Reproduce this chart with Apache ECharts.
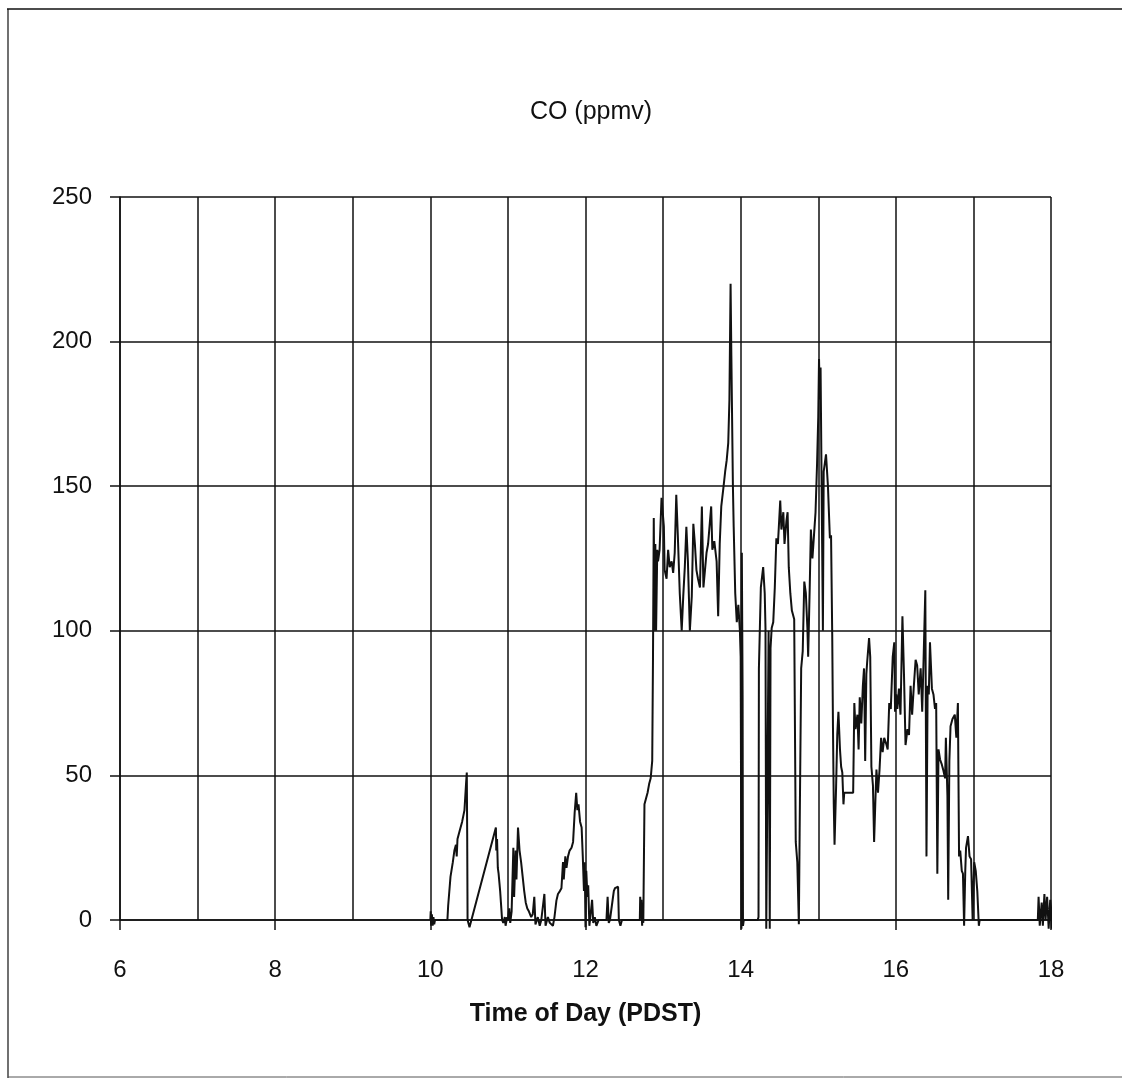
<!DOCTYPE html>
<html>
<head>
<meta charset="utf-8">
<script src="https://cdn.jsdelivr.net/npm/echarts@6/dist/echarts.min.js"></script>
<style>
html,body{margin:0;padding:0;background:#fff;}
#chart{width:1122px;height:1081px;}
</style>
</head>
<body>
<div id="chart"></div>
<script>
var chartTitle = "CO (ppmv)";
var xAxisTitle = "Time of Day (PDST)";
var xTicks = [6, 8, 10, 12, 14, 16, 18];
var yTicks = [0, 50, 100, 150, 200, 250];

var hours = [
10.00,10.005,10.01,10.02,10.03,10.04,10.05,10.06,10.22,
10.23,10.26,10.29,10.31,10.33,10.34,10.35,10.38,10.41,10.44,10.46,10.47,10.475,10.48,10.505,
10.845,10.85,10.86,10.87,10.88,10.89,10.90,10.91,10.925,10.94,10.96,10.97,10.99,11.00,
11.017,11.03,11.048,11.07,11.08,11.10,11.11,11.13,11.15,11.17,11.19,11.21,11.23,11.25,11.27,11.30,11.32,11.34,11.355,11.385,11.41,11.43,11.47,11.485,11.515,11.54,11.58,11.60,11.625,11.645,11.67,11.69,11.71,11.72,11.74,11.755,11.775,11.795,11.82,11.84,11.86,11.88,11.895,11.91,11.93,11.95,11.965,11.98,11.99,
12.00,12.01,12.025,12.035,12.05,12.07,12.085,12.10,12.12,12.14,12.17,12.27,12.285,12.30,12.315,12.35,12.365,12.38,12.42,12.43,12.45,12.47,12.70,12.705,12.71,12.72,12.725,12.73,12.735,12.745,
12.76,12.78,12.80,12.82,12.84,12.85,12.86,12.87,12.88,12.89,12.90,12.91,12.925,12.935,12.955,12.98,
13.00,13.01,13.02,13.045,13.065,13.085,13.11,13.13,13.15,13.17,13.19,13.215,13.24,13.26,13.28,13.30,13.32,13.345,13.37,13.39,13.41,13.43,13.45,13.475,13.50,13.52,13.54,13.56,13.58,13.62,13.635,13.66,13.69,13.71,13.73,13.75,13.78,13.80,13.82,13.84,13.855,13.87,13.88,13.90,13.91,13.93,13.95,13.97,13.99,
14.00,14.005,14.01,14.015,14.02,14.025,14.03,14.04,14.22,14.23,14.235,14.26,14.29,14.31,14.32,14.33,14.35,14.36,14.375,14.385,14.40,14.42,14.44,14.46,14.48,14.51,14.525,14.55,14.565,14.59,14.605,14.62,14.64,14.66,14.69,14.71,14.73,14.75,14.76,14.78,14.80,14.82,14.84,14.86,14.87,14.89,14.905,14.925,14.945,14.965,14.985,
15.00,15.01,15.02,15.03,15.04,15.05,15.06,15.07,15.085,15.10,15.125,15.15,15.165,15.18,15.19,15.20,15.21,15.23,15.245,15.26,15.28,15.295,15.31,15.325,15.335,15.45,15.465,15.48,15.505,15.52,15.535,15.555,15.575,15.59,15.605,15.62,15.63,15.655,15.67,15.685,15.705,15.72,15.735,15.75,15.77,15.79,15.81,15.83,15.85,15.875,15.895,15.915,15.935,15.96,15.98,15.99,
16.005,16.02,16.04,16.06,16.085,16.105,16.125,16.15,16.17,16.19,16.21,16.23,16.255,16.275,16.295,16.32,16.34,16.36,16.38,16.395,16.41,16.425,16.44,16.465,16.485,16.505,16.52,16.535,16.55,16.57,16.59,16.61,16.635,16.645,16.665,16.675,16.69,16.705,16.73,16.76,16.78,16.80,16.815,16.83,16.85,16.865,16.88,16.895,16.905,16.93,16.95,16.97,16.99,
17.01,17.03,17.05,17.07,17.08,17.83,17.84,17.855,17.88,17.895,17.915,17.93,17.95,17.97,17.99,18.01,18.025,18.04,18.06,18.08,18.095
];

var coValues = [
0,3,-2,2,-2,1,-1.5,0,0,
5,15,20,24,26,22,28,31,34,38,47,51,30,0,-2.5,
32,24,28,18,16,13,10,6,0,-1,1,-2,1,0,
4,-1,3,25,8,24,14,32,24,20,15,10,6,4,3,1,2,8,-1.5,1,-2,0,9,-2,1,-1,-2,1,6.7,9,10,11,20,14,22,18,22,24,25,27,37,44,38,40,34,32,22,10,20,
-2.5,17,8,12,-2,3,7,-1,1,-2,0,0,8,-1,0,7,10,11,11.5,0,-2,0,0,8,5,7,2,-2,6,-1,
40,42,44,47,49,52,55,91,139,100,130,100,128,124,128,146,
146,136,121,118,128,122,124,120,127,147,133,113,100,112,122,136,124,100,112,137,130,121,118,115,143,115,121,127,130,143,128,131,124,105,130,143,150,155,159,165,180,220,195,150,136,113,103,109,100,
91,47,-3,127,103,77,-2,0,0,1,87,115,122,113,101,-3,-3,100,-3,94,101,103,115,132,130,145,135,141,130,138,141,122,113,107,104,27,20,-1.5,30,87,93,117,113,101,91,115,135,125,133,141,158,
174,194,180,191,161,130,100,155,158,161,150,132,133,99,66,40,26,46,64,72,59,53,51,40,44,44,75,66,71,59,77,68,81,87,55,85,89,97.5,91,53,46.5,27,40,52,44,52,63,58,63,61,59,75,73,91,96,72,
78,73,80,71,105,85,60.5,66,64,81,71,80,90,88,78,87,72,92.5,114,22,81,78,96,80,78,73,75,16,59,55.5,54,52,49,63,43,7,55,67,69.5,71,63,75,22,24,17,16,-2,17,25,29,22,21,0,
20,17,10,-2,0,0,8,-2,6,-2,9,0,8,-3,7,-3,7,-2,10,11.5,10
];

var seriesData = hours.map(function (h, i) { return [h, coValues[i]]; });

var chart = echarts.init(document.getElementById('chart'), null, {renderer: 'canvas'});
var ink = '#111';
chart.setOption({
  backgroundColor: '#fff',
  animation: false,
  title: {
    text: chartTitle,
    left: 586, top: 95, textAlign: 'center',
    textStyle: {fontFamily: 'Liberation Sans', fontSize: 25, fontWeight: 'normal', color: ink}
  },
  grid: {left: 120, right: 71, top: 197, bottom: 161, containLabel: false},
  xAxis: {
    type: 'value', min: xTicks[0], max: xTicks[xTicks.length - 1], interval: 2,
    name: xAxisTitle, nameLocation: 'middle', nameGap: 82,
    nameTextStyle: {fontFamily: 'Liberation Sans', fontSize: 25, fontWeight: 'bold', color: ink},
    axisLine: {show: true, onZero: false, lineStyle: {color: ink, width: 1.5}},
    axisTick: {show: true, inside: false, length: 10, lineStyle: {color: ink, width: 1.5}},
    axisLabel: {margin: 38, fontFamily: 'Liberation Sans', fontSize: 24, color: ink},
    splitLine: {show: true, lineStyle: {color: ink, width: 1.5}},
    minorTick: {show: false, splitNumber: 2},
    minorSplitLine: {show: true, lineStyle: {color: ink, width: 1.5}}
  },
  yAxis: {
    type: 'value', min: yTicks[0], max: yTicks[yTicks.length - 1], interval: 50,
    axisLine: {show: true, lineStyle: {color: ink, width: 1.5}},
    axisTick: {show: true, inside: false, length: 10, lineStyle: {color: ink, width: 1.5}},
    axisLabel: {margin: 28, fontFamily: 'Liberation Sans', fontSize: 24, color: ink},
    splitLine: {show: true, lineStyle: {color: ink, width: 1.5}}
  },
  series: [{
    type: 'line', data: seriesData, showSymbol: false, symbol: 'none',
    clip: false, smooth: false,
    lineStyle: {color: ink, width: 2},
    z: 5
  }],
  graphic: [
    {type: 'line', shape: {x1: 7, y1: 9, x2: 1122, y2: 9}, style: {stroke: ink, lineWidth: 1.5}},
    {type: 'line', shape: {x1: 8, y1: 9, x2: 8, y2: 1078}, style: {stroke: ink, lineWidth: 1.2}},
    {type: 'line', shape: {x1: 8, y1: 1077, x2: 1122, y2: 1077}, style: {stroke: '#555', lineWidth: 1}}
  ]
});
</script>
</body>
</html>
